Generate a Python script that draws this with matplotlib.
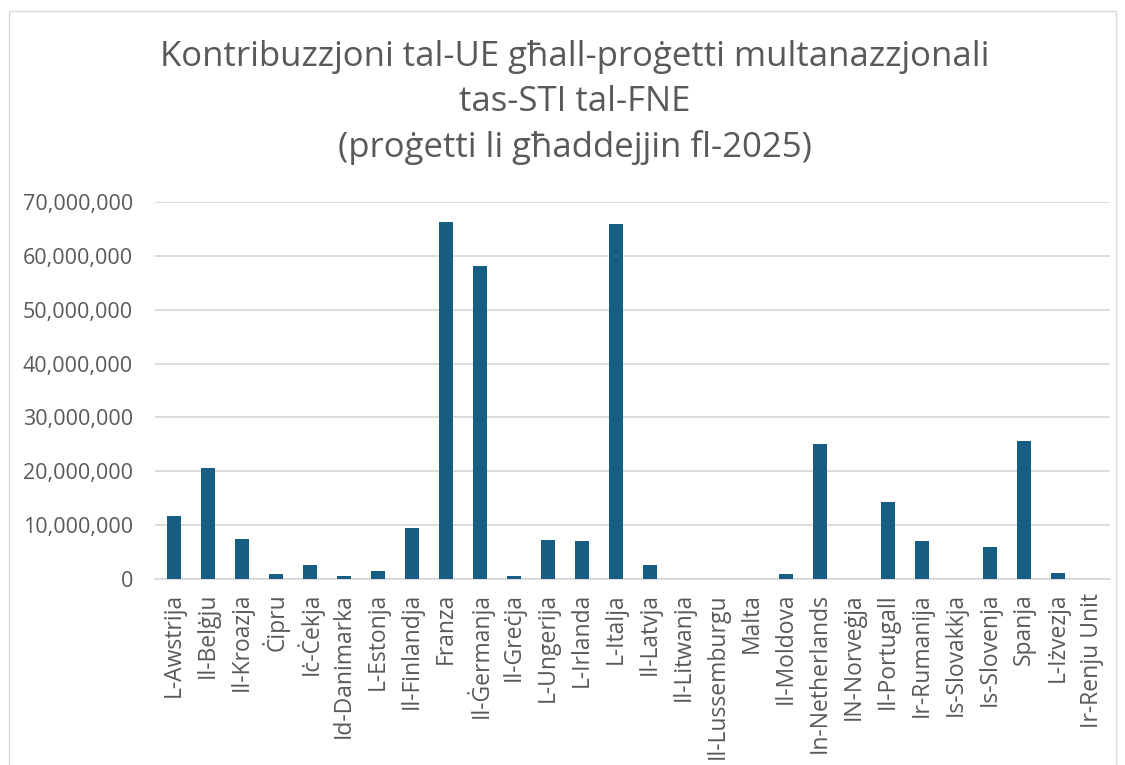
import numpy as np
import matplotlib
matplotlib.use("Agg")
import matplotlib.pyplot as plt
from matplotlib.ticker import FuncFormatter
from matplotlib.patches import Rectangle

# countries (Maltese labels) and EU contribution in EUR
countries = ['L-Awstrija', 'Il-Belġju', 'Il-Kroazja', 'Ċipru', 'Iċ-Ċekja',
             'Id-Danimarka', 'L-Estonja', 'Il-Finlandja', 'Franza', 'Il-Ġermanja',
             'Il-Greċja', 'L-Ungerija', 'L-Irlanda', 'L-Italja', 'Il-Latvja',
             'Il-Litwanja', 'Il-Lussemburgu', 'Malta', 'Il-Moldova', 'In-Netherlands',
             'IN-Norveġja', 'Il-Portugall', 'Ir-Rumanija', 'Is-Slovakkja', 'Is-Slovenja',
             'Spanja', 'L-Iżvezja', 'Ir-Renju Unit']
contribution = [11800000, 20600000, 7500000, 950000, 2700000,
                600000, 1500000, 9400000, 66200000, 58100000,
                550000, 7300000, 7000000, 65900000, 2700000,
                100000, 0, 0, 1000000, 25100000,
                0, 14300000, 7100000, 100000, 6000000,
                25600000, 1100000, 0]
yticks = np.arange(0, 70000001, 10000000)

title = ("Kontribuzzjoni tal-UE għall-proġetti multanazzjonali\n"
         "tas-STI tal-FNE\n"
         "(proġetti li għaddejjin fl-2025)")

plt.rcParams['font.family'] = ['Open Sans', 'DejaVu Sans']
TXT = '#595959'
BAR = '#175E82'

fig = plt.figure(figsize=(11.25, 7.65), dpi=100)
ax = fig.add_axes([0.138, 0.243, 0.849, 0.493])

x = np.arange(len(countries))
ax.bar(x, contribution, width=0.42, color=BAR, zorder=3)

ax.set_ylim(0, 70000000)
ax.set_xlim(-0.55, len(countries) - 0.45)
ax.set_yticks(yticks)
ax.yaxis.set_major_formatter(FuncFormatter(lambda v, p: f'{int(v):,}'))
ax.set_xticks(x)
ax.set_xticklabels(countries, rotation=90, fontsize=16.5, color=TXT)
ax.tick_params(axis='y', labelsize=15.5, labelcolor=TXT, length=0, pad=16)
ax.tick_params(axis='x', length=0, pad=10)

ax.grid(axis='y', color='#d9d9d9', linewidth=1.3, zorder=0)
for s in ['top', 'right', 'left']:
    ax.spines[s].set_visible(False)
ax.spines['bottom'].set_color('#d9d9d9')
ax.spines['bottom'].set_linewidth(1.3)

fig.text(0.511, 0.948, title, ha='center', va='top', fontsize=25,
         color=TXT, linespacing=1.42)

# chart border
fig.patches.append(Rectangle((0.008, -0.01), 0.984, 0.995, transform=fig.transFigure,
                             fill=False, edgecolor='#d9d9d9', linewidth=1))

fig.savefig('out.png', dpi=100)
